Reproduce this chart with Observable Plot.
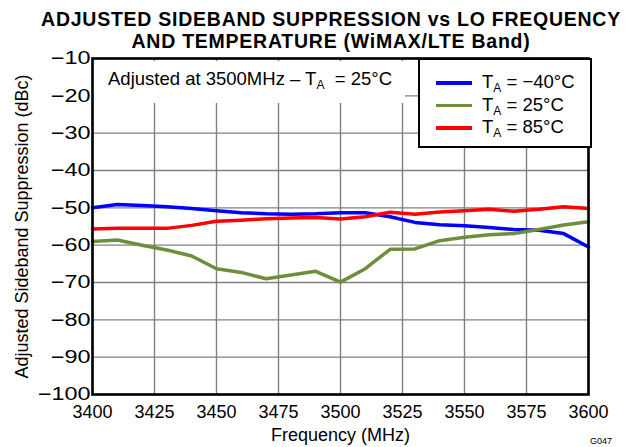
<!DOCTYPE html>
<html>
<head>
<meta charset="utf-8">
<script src="https://cdn.jsdelivr.net/npm/d3@7"></script>
<script src="https://cdn.jsdelivr.net/npm/@observablehq/plot@0.6"></script>
<style>
  html, body { margin: 0; padding: 0; background: #fff; }
  body { width: 639px; height: 447px; position: relative; overflow: hidden; font-family: "Liberation Sans", Arial, sans-serif; }
  .title { position: absolute; left: 0; width: 662px; height: 22px; text-align: center; font-weight: bold; font-size: 19.5px; line-height: 22px; color: #000; letter-spacing: 0.75px; white-space: nowrap; }
  #chart { position: absolute; left: 0; top: 48px; }
  .sub { font-size: 12px; position: relative; top: 4px; }
  #annot { position: absolute; left: 94px; top: 61px; width: 311px; height: 42px; background: #fff; font-size: 18.5px; }
  #annot span.t { position: absolute; left: 14px; top: 7px; white-space: nowrap; }
  #legend { position: absolute; left: 418px; top: 58px; width: 170px; height: 86px; background: #fff; border: 2px solid #000; font-size: 18.5px; }
  .row { position: absolute; left: 0; height: 20px; white-space: nowrap; }
  .swatch { position: absolute; left: 16px; top: 9px; width: 36px; height: 3.6px; }
  .lab { position: absolute; left: 62px; top: -1px; }
  #code { position: absolute; left: 590px; top: 436px; font-size: 9px; }
</style>
</head>
<body>
<div class="title" style="top:7.7px">ADJUSTED SIDEBAND SUPPRESSION vs LO FREQUENCY</div>
<div class="title" style="top:29.8px">AND TEMPERATURE (WiMAX/LTE Band)</div>
<div id="chart"></div>
<div id="annot"><span class="t">Adjusted at 3500MHz – T<span class="sub">A</span>&nbsp; = 25°C</span></div>
<div id="legend"></div>
<div id="code">G047</div>
<script>
const freqs = [3400, 3410, 3420, 3430, 3440, 3450, 3460, 3470, 3480, 3490, 3500,
               3510, 3520, 3530, 3540, 3550, 3560, 3570, 3580, 3590, 3600];
const ssbMinus40 = [-50.0, -49.1, -49.4, -49.7, -50.2, -50.8, -51.3, -51.6, -51.7, -51.6, -51.3,
                    -51.3, -52.4, -53.9, -54.5, -54.8, -55.3, -55.8, -56.0, -56.9, -60.5];
const ssb25 = [-59.0, -58.6, -60.0, -61.3, -62.9, -66.3, -67.3, -69.0, -68.0, -67.0, -69.9,
               -66.3, -61.1, -61.0, -58.8, -57.9, -57.2, -56.9, -55.8, -54.6, -53.7];
const ssb85 = [-55.7, -55.5, -55.5, -55.5, -54.7, -53.6, -53.3, -52.9, -52.7, -52.6, -53.0,
               -52.4, -51.2, -51.7, -51.1, -50.8, -50.4, -50.9, -50.4, -49.7, -50.2];
const seriesNames = ["−40°C", "25°C", "85°C"];
const seriesColors = ["#0000ff", "#6f8e3d", "#ff0000"];
const xTicks = [3400, 3425, 3450, 3475, 3500, 3525, 3550, 3575, 3600];
const yTicks = [-10, -20, -30, -40, -50, -60, -70, -80, -90, -100];

const seriesValues = [ssbMinus40, ssb25, ssb85];
const data = [];
seriesValues.forEach((vals, si) => {
  vals.forEach((v, i) => data.push({series: seriesNames[si], freq: freqs[i], value: v}));
});

const chart = Plot.plot({
  width: 639,
  height: 399,
  marginTop: 10,
  marginBottom: 53,
  marginLeft: 92,
  marginRight: 51,
  style: {fontFamily: "Liberation Sans, Arial, sans-serif", fontSize: "18px", color: "#000", background: "transparent"},
  x: {domain: [3400, 3600]},
  y: {domain: [-100, -10]},
  color: {domain: seriesNames, range: seriesColors},
  marks: [
    Plot.gridX(xTicks, {stroke: "#808080", strokeOpacity: 1, strokeWidth: 1.4}),
    Plot.gridY(yTicks, {stroke: "#808080", strokeOpacity: 1, strokeWidth: 1.4}),
    Plot.line(data, {x: "freq", y: "value", z: "series", stroke: "series", strokeWidth: 3.5, strokeLinejoin: "round"}),
    Plot.frame({stroke: "#000", strokeWidth: 2.6}),
    Plot.axisX(xTicks, {tickSize: 0, tickPadding: 11, fontSize: 18, tickFormat: d => String(d),
      label: "Frequency (MHz)", labelAnchor: "center", labelArrow: "none", labelOffset: 46}),
    Plot.axisY(yTicks, {tickSize: 0, tickPadding: 2, fontSize: 18,
      label: "Adjusted Sideband Suppression (dBc)", labelAnchor: "center", labelArrow: "none", labelOffset: 77})
  ]
});
document.getElementById("chart").appendChild(chart);

// The reference's y tick labels are set in a horizontally wider face
chart.querySelectorAll('g[aria-label="y-axis tick label"] text').forEach(t => {
  const w = t.getComputedTextLength();
  t.setAttribute("textLength", (w * 1.3).toFixed(1));
  t.setAttribute("lengthAdjust", "spacingAndGlyphs");
});

const legend = document.getElementById("legend");
seriesNames.forEach((name, i) => {
  const row = document.createElement("div");
  row.className = "row";
  row.style.top = (12 + i * 22.5) + "px";
  row.innerHTML = `<div class="swatch" style="background:${seriesColors[i]}"></div><span class="lab">T<span class="sub">A</span> = ${name}</span>`;
  legend.appendChild(row);
});
</script>
</body>
</html>
